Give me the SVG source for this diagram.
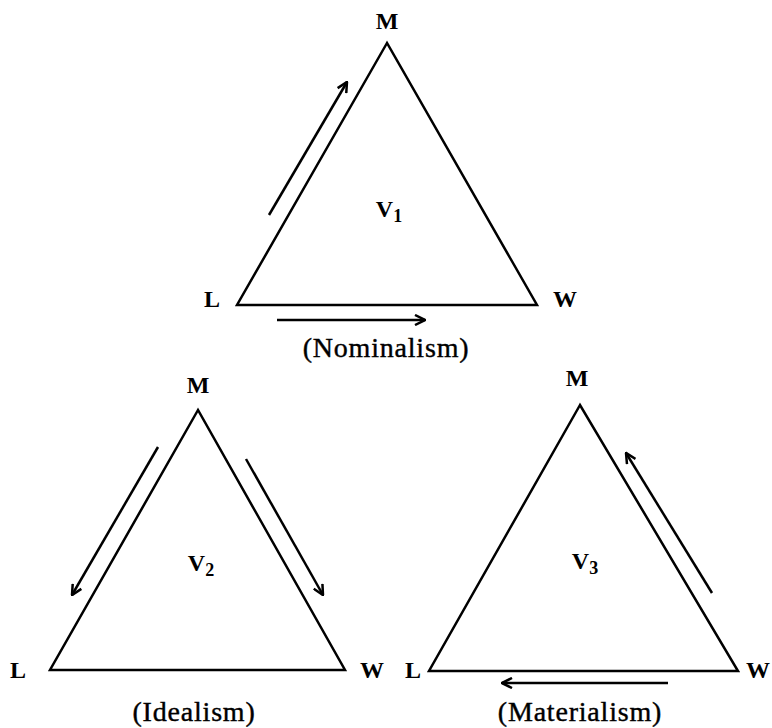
<svg xmlns="http://www.w3.org/2000/svg" width="772" height="728" viewBox="0 0 772 728">
<defs>
<style>
.tri{fill:none;stroke:#000;stroke-width:2.5;stroke-linejoin:miter}
.arr{fill:none;stroke:#000;stroke-width:2.5;marker-end:url(#head)}
text{font-family:"Liberation Serif","Times New Roman",serif;font-weight:bold;fill:#000;text-anchor:middle}
.lbl{font-size:24px}
.cap{font-size:28px;letter-spacing:0.8px;font-weight:normal;stroke:#000;stroke-width:0.4}
.sub{font-size:18px}
</style>
<marker id="head" viewBox="0 0 12 12" refX="11" refY="6" markerWidth="12" markerHeight="12" markerUnits="userSpaceOnUse" orient="auto">
<path d="M1,1 L11,6 L1,11" fill="none" stroke="#000" stroke-width="2.5"/>
</marker>
</defs>
<rect width="772" height="728" fill="#fff"/>
<g id="v1">
<polygon class="tri" points="387,43 237,305 537,305"/>
<text class="lbl" x="387" y="29">M</text>
<text class="lbl" x="212" y="307">L</text>
<text class="lbl" x="565" y="307">W</text>
<text class="lbl" x="389" y="217">V<tspan class="sub" dy="5">1</tspan></text>
<text class="cap" x="386" y="357">(Nominalism)</text>
</g>
<g id="v2">
<polygon class="tri" points="198,410 50,670 345,670"/>
<text class="lbl" x="198" y="393">M</text>
<text class="lbl" x="18" y="678">L</text>
<text class="lbl" x="372" y="678">W</text>
<text class="lbl" x="201" y="571">V<tspan class="sub" dy="5">2</tspan></text>
<text class="cap" x="194" y="721">(Idealism)</text>
</g>
<g id="v3">
<polygon class="tri" points="580,405 429,671 738,671"/>
<text class="lbl" x="577" y="386">M</text>
<text class="lbl" x="413" y="678">L</text>
<text class="lbl" x="758" y="678">W</text>
<text class="lbl" x="585" y="569">V<tspan class="sub" dy="5">3</tspan></text>
<text class="cap" x="580" y="721">(Materialism)</text>
</g>
<g id="connectors">
<line class="arr" x1="269" y1="215" x2="347" y2="82"/>
<line class="arr" x1="277" y1="320" x2="425" y2="320"/>
<line class="arr" x1="158" y1="447" x2="72" y2="595"/>
<line class="arr" x1="246" y1="459" x2="323" y2="595"/>
<line class="arr" x1="712" y1="593" x2="626" y2="453"/>
<line class="arr" x1="668" y1="683" x2="502" y2="683"/>
</g>
</svg>
